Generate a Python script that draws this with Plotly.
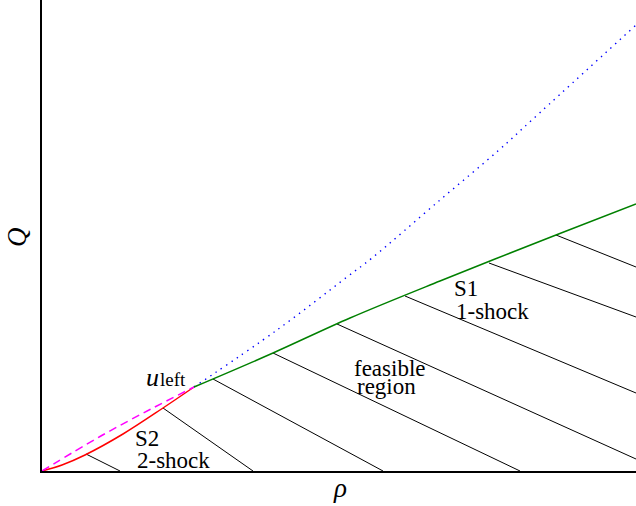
import plotly.graph_objects as go

# curves (rho, Q)
s2_rho = [0.0, 0.20, 0.43, 0.81, 1.21, 1.52]
s2_q = [0.0, 0.06, 0.16, 0.37, 0.63, 0.84]

s2_alt_rho = [0.0, 0.58, 1.08, 1.52]
s2_alt_q = [0.0, 0.345, 0.615, 0.84]

r1_rho = [1.52, 2.35, 3.05, 3.30, 3.98, 4.57, 4.91, 5.94]
r1_q = [0.84, 1.41, 1.94, 2.13, 2.71, 3.21, 3.52, 4.46]

s1_rho = [1.52, 2.31, 3.08, 3.98, 5.14, 5.94]
s1_q = [0.84, 1.18, 1.53, 1.90, 2.36, 2.67]

# hatching of the feasible region: start on the shock curves, end on the frame
hatch_rho0 = [0.44, 1.21, 1.71, 2.31, 2.95, 3.63, 4.47, 5.14]
hatch_q0 = [0.17, 0.63, 0.92, 1.18, 1.47, 1.75, 2.08, 2.36]
hatch_rho1 = [0.78, 2.11, 3.41, 4.78, 5.94, 5.94, 5.94, 5.94]
hatch_q1 = [0.0, 0.0, 0.0, 0.0, 0.12, 0.78, 1.54, 2.04]

u_left = (1.52, 0.84)

SERIF = "Liberation Serif"

hx, hy = [], []
for a, b, c, d in zip(hatch_rho0, hatch_q0, hatch_rho1, hatch_q1):
    hx += [a, c, None]
    hy += [b, d, None]

fig = go.Figure()
fig.add_trace(go.Scatter(x=hx, y=hy, mode="lines", line=dict(color="black", width=1)))
fig.add_trace(go.Scatter(x=s2_rho, y=s2_q, mode="lines",
                         line=dict(color="#ff0000", width=1.5, shape="spline")))
fig.add_trace(go.Scatter(x=s2_alt_rho, y=s2_alt_q, mode="lines",
                         line=dict(color="#ff00ff", width=1.5, dash="8px,5px", shape="spline")))
fig.add_trace(go.Scatter(x=r1_rho, y=r1_q, mode="lines",
                         line=dict(color="#0000ff", width=1.4, dash="1.4px,5px", shape="spline")))
fig.add_trace(go.Scatter(x=s1_rho, y=s1_q, mode="lines",
                         line=dict(color="#008000", width=1.5, shape="spline")))


def label(x, y, text, size=23, **kw):
    fig.add_annotation(x=x, y=y, text=text, showarrow=False, xanchor=kw.pop("xanchor", "left"),
                       yanchor="middle", font=dict(family=SERIF, size=size, color="black"), **kw)


label(u_left[0] - 0.42, u_left[1] + 0.10, "<i>u</i>", size=26, xanchor="center")
label(u_left[0] - 0.21, u_left[1] + 0.08, "left", size=19, xanchor="center")
label(0.91, 0.33, "S2")
label(0.93, 0.11, "2-shock")
label(3.10, 1.03, "feasible")
label(3.13, 0.85, "region")
label(4.10, 1.83, "S1")
label(4.12, 1.60, "1-shock")
# axis titles sit outside the plotting area, so place them in paper units
label(0.502, -0.036, "<i>ρ</i>", size=27, xanchor="center", xref="paper", yref="paper")
label(-0.042, 0.497, "<i>Q</i>", size=27, xanchor="center", xref="paper", yref="paper",
      textangle=-90)

fig.update_layout(
    width=636,
    height=506,
    margin=dict(l=42, r=0, t=0, b=35),
    plot_bgcolor="white",
    paper_bgcolor="white",
    showlegend=False,
    xaxis=dict(range=[0, 5.94], showgrid=False, zeroline=False, showticklabels=False,
               ticks="", showline=True, linecolor="black", linewidth=1.5),
    yaxis=dict(range=[0, 4.71], showgrid=False, zeroline=False, showticklabels=False,
               ticks="", showline=True, linecolor="black", linewidth=1.5),
)

# drop the default page margin so the 636x506 figure fills the window exactly
fix_page = (
    "document.body.style.margin='0';"
    "document.body.style.overflow='hidden';"
    "Plotly.relayout(document.getElementById('{plot_id}'), {width: 636, height: 506});"
)
fig.write_html("out.html", post_script=fix_page, config={"displayModeBar": False})
